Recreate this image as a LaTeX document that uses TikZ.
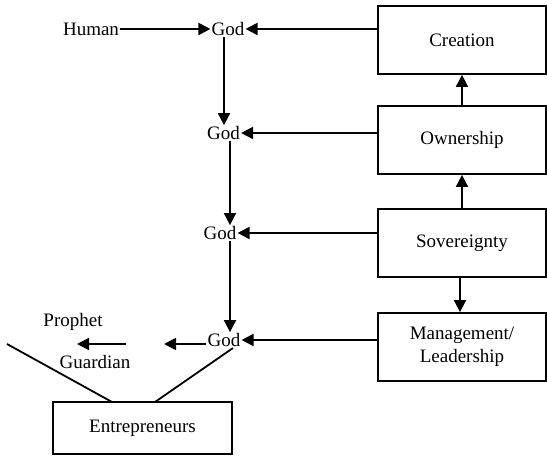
\documentclass[tikz,border=0pt]{standalone}
\usepackage{fontspec}
\setmainfont{Liberation Serif}
\usetikzlibrary{arrows.meta}
\begin{document}
\begin{tikzpicture}[x=1pt,y=-1pt,
  every node/.style={font=\fontsize{19}{21}\selectfont, inner sep=1pt},
  box/.style={draw, line width=1.8pt, minimum width=168pt, minimum height=68pt, inner sep=0pt, align=center},
  lbl/.style={inner sep=1pt},
  arr/.style={line width=1.8pt, -{Triangle[length=12pt,width=12pt]}},
  ln/.style={line width=1.8pt}]
\useasboundingbox (0,0) rectangle (547,457);
\node[box] (creation) at (462,40) {Creation};
\node[box] (ownership) at (462,140) {Ownership};
\node[box] (sovereignty) at (462,243) {Sovereignty};
\node[box, font=\fontsize{19}{23}\selectfont] (management) at (462,347) {Management/\\Leadership};
\node[box, minimum width=179pt, minimum height=52pt] (entre) at (142.5,428) {Entrepreneurs};

\node[lbl] (human) at (91,29) {Human};
\node[lbl] (g1) at (228,29) {God};
\node[lbl] (g2) at (223.5,133) {God};
\node[lbl] (g3) at (220,233) {God};
\node[lbl] (g4) at (224,340) {God};
\node[lbl] (prophet) at (73,322) {Prophet};
\node[lbl] (guardian) at (95,362) {Guardian};

\coordinate (c1) at (164,344);
\coordinate (c2a) at (126,344);
\coordinate (c2b) at (77,344);
\coordinate (c3) at (7,344);
\coordinate (e1) at (112,402);
\coordinate (e2) at (155,402);
\coordinate (c4) at (233,348);

\draw[arr] (human.east) -- (g1.west);
\draw[arr] (creation.west |- g1.east) -- (g1.east);
\draw[arr] (ownership.west |- g2.east) -- (g2.east);
\draw[arr] (sovereignty.west |- g3.east) -- (g3.east);
\draw[arr] (management.west |- g4.east) -- (g4.east);

\draw[arr] ([xshift=0.5pt]g2.north |- g1.south) -- ([xshift=0.5pt]g2.north);
\draw[arr] ([xshift=10pt]g3.north |- g2.south) -- ([xshift=10pt]g3.north);
\draw[arr] ([xshift=6pt]g4.north |- g3.south) -- ([xshift=6pt]g4.north);

\draw[arr] (ownership.north) -- (creation.south);
\draw[arr] (sovereignty.north) -- (ownership.south);
\draw[arr] ([xshift=-2pt]sovereignty.south) -- ([xshift=-2pt]management.north);

\draw[arr] (g4.west |- c1) -- (c1);
\draw[arr] (c2a) -- (c2b);
\draw[ln] (c3) -- (e1);
\draw[ln] (c4) -- (e2);
\end{tikzpicture}
\end{document}
